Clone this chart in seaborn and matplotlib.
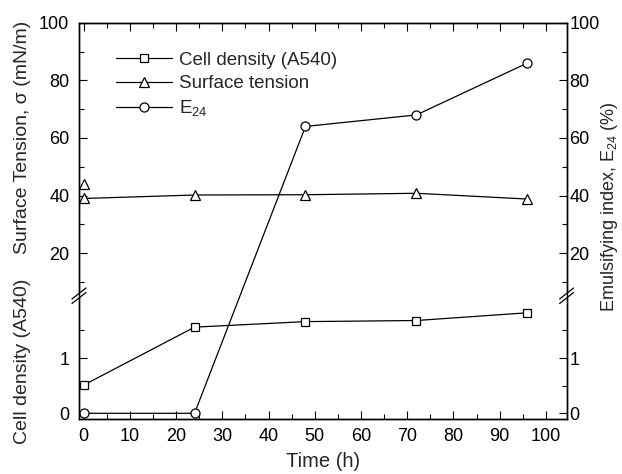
import seaborn as sns
from matplotlib import pyplot as plt
import numpy as np

# data
time = [0, 24, 48, 72, 96]
cell_density = [0.51, 1.56, 1.66, 1.68, 1.82]
surface_tension = [39.0, 40.2, 40.3, 40.8, 38.8]
st_extra_time = [0]
st_extra = [44.0]
e24 = [0, 0, 64, 68, 86]

# broken y axis: lower part for cell density, upper part for surface tension / E24
def cd_pos(c):
    return 0.208 + np.asarray(c, dtype=float) * 1.917


def st_pos(s):
    return 5.764 + (np.asarray(s, dtype=float) - 20) / 10


Y_TOP = st_pos(100)
Y_BREAK = 4.21

sns.set_style('ticks')
plt.rcParams['font.family'] = ['Liberation Sans', 'DejaVu Sans']
plt.rcParams['mathtext.fontset'] = 'custom'
plt.rcParams['mathtext.rm'] = 'Liberation Sans'

fig = plt.figure(figsize=(6.22, 4.74), dpi=100)
ax = fig.add_axes([0.127, 0.1154, 0.784, 0.8367])

line_kw = dict(color='black', linewidth=0.9, markerfacecolor='white',
               markeredgecolor='black', markeredgewidth=0.9)
sns.lineplot(x=time, y=cd_pos(cell_density), marker='s', markersize=5.8,
             label='Cell density (A540)', ax=ax, **line_kw)
sns.lineplot(x=time, y=st_pos(surface_tension), marker='^', markersize=7,
             label='Surface tension', ax=ax, **line_kw)
e24_pos = [float(cd_pos(0)) if v == 0 else float(st_pos(v)) for v in e24]
sns.lineplot(x=time, y=e24_pos, marker='o', markersize=6.5,
             label=r'E$_{\mathregular{24}}$', ax=ax, **line_kw)
ax.plot(st_extra_time, st_pos(st_extra), linestyle='none', marker='^',
        markersize=7, markerfacecolor='white', markeredgecolor='black',
        markeredgewidth=0.9)

ax.set_xlim(-1, 104.5)
ax.set_ylim(0, Y_TOP)
ax.set_xticks(np.arange(0, 101, 10))
ax.set_xticks(np.arange(5, 101, 10), minor=True)

major_pos = list(cd_pos([0, 1])) + list(st_pos([20, 40, 60, 80, 100]))
major_lab = ['0', '1', '20', '40', '60', '80', '100']
minor_pos = list(cd_pos([0.5, 1.5])) + list(st_pos([10, 30, 50, 70, 90]))
ax.set_yticks(major_pos, major_lab)
ax.set_yticks(minor_pos, minor=True)

ax2 = ax.twinx()
ax2.set_ylim(0, Y_TOP)
ax2.set_yticks(major_pos, major_lab)
ax2.set_yticks(minor_pos, minor=True)

for a in (ax, ax2):
    for s in a.spines.values():
        s.set_linewidth(1.0)
        s.set_color('black')
ax.tick_params(which='both', direction='in', top=True, right=False,
               width=0.8, colors='black', labelsize=13)
ax.tick_params(which='major', length=5.5)
ax.tick_params(which='minor', length=3.5)
ax.tick_params(axis='y', pad=7)
ax.tick_params(axis='x', pad=6)
ax2.tick_params(which='both', direction='in', width=0.8, colors='black',
                labelsize=13, pad=2)
ax2.tick_params(which='major', length=5.5)
ax2.tick_params(which='minor', length=3.5)

# break marks on both spines
fw, fh = fig.get_size_inches() * fig.dpi
aw, ah = 0.784 * fw, 0.8367 * fh
yb = Y_BREAK / Y_TOP
dx, dy, gap = 7 / aw, 5.5 / ah, 4.5 / ah
for xb in (0, 1):
    xs = [xb - dx, xb + dx, xb + dx, xb - dx]
    ys = [yb - dy, yb + dy, yb + dy + gap, yb - dy + gap]
    ax.fill(xs, ys, color='white', transform=ax.transAxes, clip_on=False, zorder=5)
    ax.plot([xb - dx, xb + dx], [yb - dy, yb + dy], color='black', lw=0.9,
            transform=ax.transAxes, clip_on=False, zorder=6)
    ax.plot([xb - dx, xb + dx], [yb - dy + gap, yb + dy + gap], color='black',
            lw=0.9, transform=ax.transAxes, clip_on=False, zorder=6)

ax.legend(loc='upper left', bbox_to_anchor=(0.076, 0.927), frameon=False,
          fontsize=13.5, handlelength=3.0, handletextpad=0.35,
          labelspacing=0.35, borderpad=0, borderaxespad=0, numpoints=1)

ax.set_xlabel('Time (h)', fontsize=14.5, labelpad=5)
fig.text(23 / fw, 1 - 137 / fh, 'Surface Tension, \u03c3 (mN/m)', rotation=90,
         ha='center', va='center', fontsize=14)
fig.text(23 / fw, 1 - 361 / fh, 'Cell density (A540)', rotation=90,
         ha='center', va='center', fontsize=14)
fig.text(609 / fw, 1 - 207 / fh, r'Emulsifying index, E$_{\mathregular{24}}$ (%)',
         rotation=90, ha='center', va='center', fontsize=13)

fig.savefig('out.png', dpi=100)
